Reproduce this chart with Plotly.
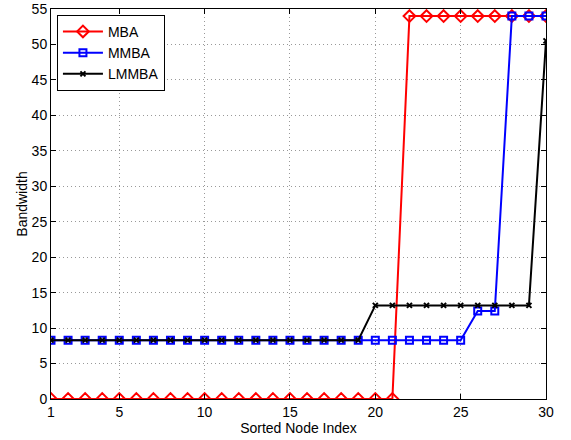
import plotly.graph_objects as go

x = list(range(1, 31))
mba = [0]*21 + [54]*9
mmba = [8.3]*25 + [12.4, 12.4] + [54, 54, 54]
lmmba = [8.3]*19 + [13.2]*10 + [50.5]
xticks = [1, 5, 10, 15, 20, 25, 30]
yticks = list(range(0, 56, 5))

FONT = "Liberation Sans, Arial, Helvetica"

fig = go.Figure()
fig.add_trace(go.Scatter(x=x, y=mba, name="MBA", mode="lines+markers",
                         line=dict(color="red", width=2),
                         marker=dict(symbol="diamond-open", size=9, color="red", line=dict(width=2))))
fig.add_trace(go.Scatter(x=x, y=mmba, name="MMBA", mode="lines+markers",
                         line=dict(color="blue", width=2),
                         marker=dict(symbol="square-open", size=7, color="blue", line=dict(width=2))))
fig.add_trace(go.Scatter(x=x, y=lmmba, name="LMMBA", mode="lines+markers",
                         line=dict(color="black", width=2),
                         marker=dict(symbol="x-thin", size=5, color="black", line=dict(width=2, color="black"))))

axis_common = dict(showline=True, linecolor="black", linewidth=1, mirror="ticks",
                   ticks="inside", ticklen=5, tickcolor="black", automargin=False,
                   showgrid=True, gridcolor="#999999", griddash="1px,3px", gridwidth=1,
                   zeroline=False, tickfont=dict(family=FONT, size=14, color="black"))

fig.update_xaxes(range=[1, 30], tickvals=xticks, title=dict(text="Sorted Node Index", standoff=4,
                 font=dict(family=FONT, size=14, color="black")), **axis_common)
fig.update_yaxes(range=[0, 55], tickvals=yticks, title=dict(text="Bandwidth", standoff=0,
                 font=dict(family=FONT, size=14, color="black")), **axis_common)

fig.update_layout(width=571, height=440, margin=dict(l=51, r=25, t=9, b=41, autoexpand=False),
                  plot_bgcolor="white", paper_bgcolor="white",
                  legend=dict(x=0.012, y=0.985, xanchor="left", yanchor="top",
                              bgcolor="white", bordercolor="black", borderwidth=1,
                              font=dict(family=FONT, size=14, color="black"),
                              tracegroupgap=0, itemwidth=40))

fig.write_html("out.html", config={"displayModeBar": False},
               post_script="document.body.style.margin='0';")
